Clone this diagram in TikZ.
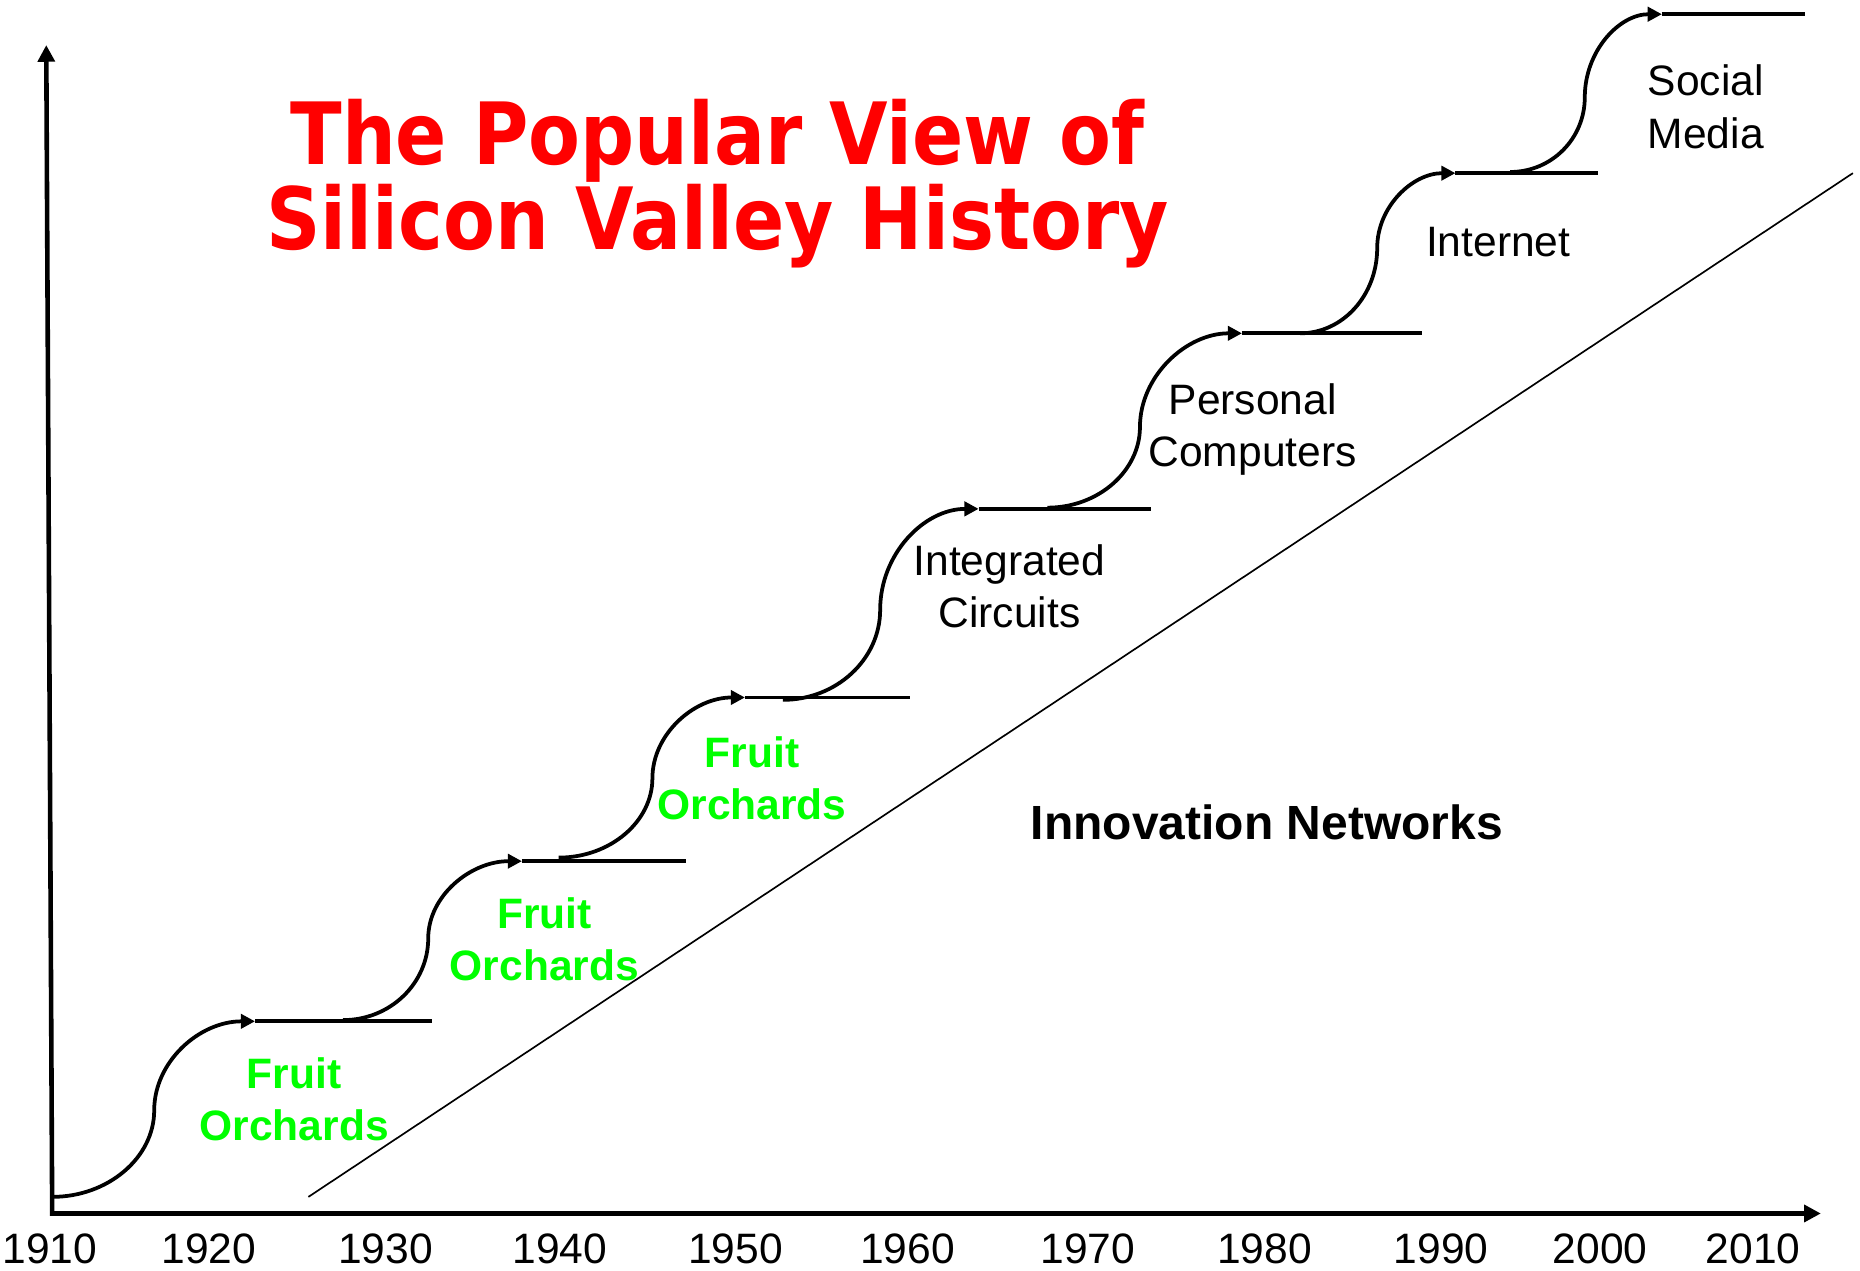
\documentclass[tikz,border=0pt]{standalone}
\usepackage{fontspec}
\setmainfont{Liberation Sans}
\newfontfamily\titlefont[FakeStretch=0.88]{DejaVu Sans}
\usetikzlibrary{arrows.meta}
\definecolor{titlered}{RGB}{255,0,0}
\definecolor{orchardgreen}{RGB}{0,255,0}

\begin{document}
\begin{tikzpicture}[x=0.01cm, y=-0.01cm]

\tikzstyle{axis}=[line width=1.1pt, {Triangle[length=4pt,width=4pt]}-{Triangle[length=4pt,width=4pt]}]
\tikzstyle{scurve}=[line width=0.9pt, -{Triangle[length=3.4pt,width=3.4pt]}]
\tikzstyle{plateau}=[line width=0.9pt]
\tikzstyle{trend}=[line width=0.4pt]
\tikzstyle{era}=[align=center, inner sep=0pt, font=\fontsize{10.2}{12.5}\selectfont]
\tikzstyle{orchard}=[era, text=orchardgreen, font=\fontsize{10.2}{12.5}\selectfont\bfseries]
\tikzstyle{yearlbl}=[inner sep=0pt, font=\fontsize{10.2}{12.5}\selectfont]

\useasboundingbox (0,0) rectangle (1568,1071);

% axes
\coordinate (Ytop) at (39,38);
\coordinate (O) at (44,1023);
\coordinate (Xend) at (1535,1023);
\draw [axis] (Ytop) -- (O) -- (Xend);

\node (y1910) [yearlbl] at (42,1053) {1910};
\node (y1920) [yearlbl] at (176,1053) {1920};
\node (y1930) [yearlbl] at (325,1053) {1930};
\node (y1940) [yearlbl] at (472,1053) {1940};
\node (y1950) [yearlbl] at (620,1053) {1950};
\node (y1960) [yearlbl] at (765,1053) {1960};
\node (y1970) [yearlbl] at (917,1053) {1970};
\node (y1980) [yearlbl] at (1066,1053) {1980};
\node (y1990) [yearlbl] at (1215,1053) {1990};
\node (y2000) [yearlbl] at (1349,1053) {2000};
\node (y2010) [yearlbl] at (1478,1053) {2010};

% innovation networks trend
\coordinate (d1) at (260,1009);
\coordinate (d2) at (1562,146);
\draw [trend] (d1) -- (d2);

% the staircase of s-curves
\coordinate (s1) at (44,1009);
\coordinate (t1) at (215,861);
\coordinate (e1) at (364,861);
\draw [scurve] (s1) .. controls +(47,0) and +(0,40) .. (130,936) .. controls +(0,-41) and +(-47,0) .. (t1);
\draw [plateau] (t1) -- (e1);

\coordinate (s2) at (289,860);
\coordinate (t2) at (440,726);
\coordinate (e2) at (578,726);
\draw [scurve] (s2) .. controls +(40,0) and +(0,38) .. (361,791) .. controls +(0,-36) and +(-43,0) .. (t2);
\draw [plateau] (t2) -- (e2);

\coordinate (s3) at (471,723);
\coordinate (t3) at (628,588);
\coordinate (e3) at (767,588);
\draw [scurve] (s3) .. controls +(43,0) and +(0,37) .. (550,656) .. controls +(0,-37) and +(-43,0) .. (t3);
\draw [plateau] (t3) -- (e3);

\coordinate (s4) at (660,590);
\coordinate (t4) at (825,429);
\coordinate (e4) at (970,429);
\draw [scurve] (s4) .. controls +(45,0) and +(0,42) .. (742,514) .. controls +(0,-47) and +(-46,0) .. (t4);
\draw [plateau] (t4) -- (e4);

\coordinate (s5) at (883,428);
\coordinate (t5) at (1047,281);
\coordinate (e5) at (1199,281);
\draw [scurve] (s5) .. controls +(43,0) and +(0,37) .. (961,360) .. controls +(0,-43) and +(-47,0) .. (t5);
\draw [plateau] (t5) -- (e5);

\coordinate (s6) at (1096,281);
\coordinate (t6) at (1227,146);
\coordinate (e6) at (1347,146);
\draw [scurve] (s6) .. controls +(36,0) and +(0,40) .. (1161,209) .. controls +(0,-35) and +(-36,0) .. (t6);
\draw [plateau] (t6) -- (e6);

\coordinate (s7) at (1273,145);
\coordinate (t7) at (1401,12);
\coordinate (e7) at (1522,12);
\draw [scurve] (s7) .. controls +(35,0) and +(0,35) .. (1336,82) .. controls +(0,-39) and +(-36,0) .. (t7);
\draw [plateau] (t7) -- (e7);

% labels
\node (fruit1) [orchard] at (248,927) {Fruit\\Orchards};
\node (fruit2) [orchard] at (459,792) {Fruit\\Orchards};
\node (fruit3) [orchard] at (634,656) {Fruit\\Orchards};
\node (ic) [era] at (851,494) {Integrated\\Circuits};
\node (pc) [era] at (1056,362) {Personal\\Computers};
\node (net) [era] at (1263,204) {Internet};
\node (social) [era] at (1438,90) {Social\\Media};
\node (innov) [inner sep=0pt, font=\fontsize{11.5}{14}\selectfont\bfseries] at (1068,693) {Innovation Networks};

\node (title) [align=center, inner sep=0pt, text=titlered, font=\titlefont\bfseries\fontsize{20.6}{20.3}\selectfont] at (605,155) {The Popular View of\\Silicon Valley History};

\end{tikzpicture}
\end{document}
